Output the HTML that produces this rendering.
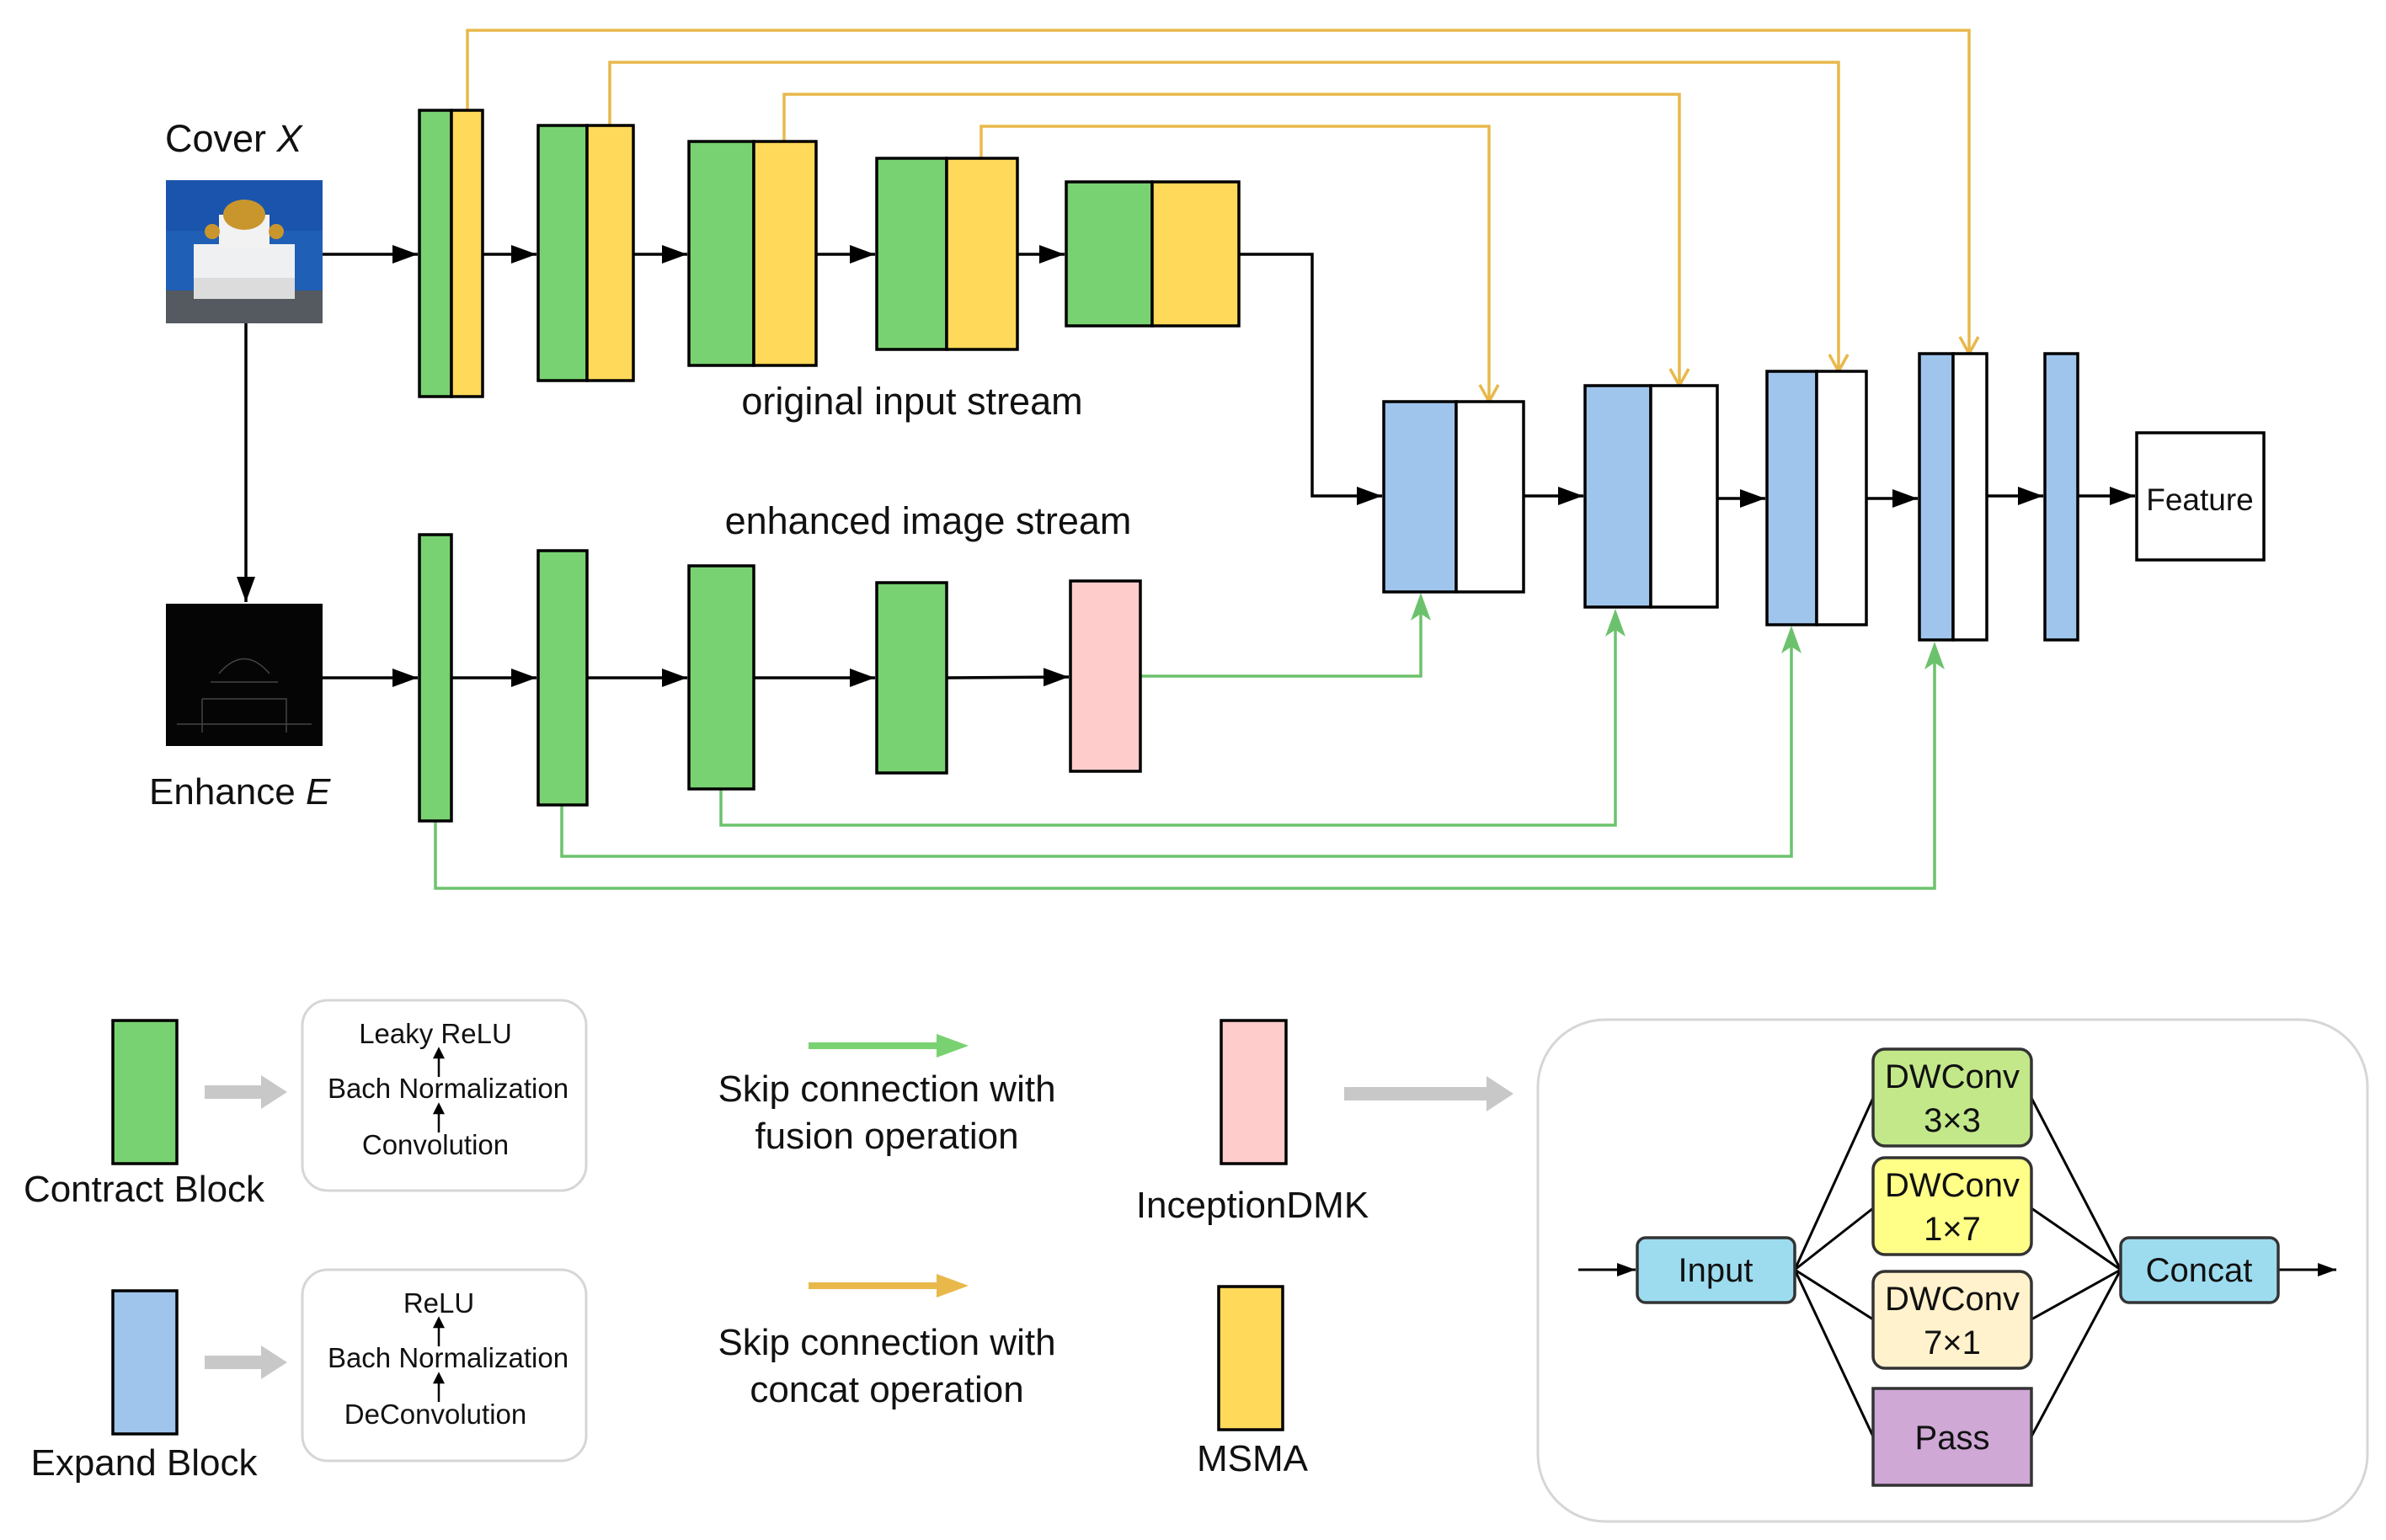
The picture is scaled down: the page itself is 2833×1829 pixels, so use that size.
<!DOCTYPE html>
<html><head><meta charset="utf-8"><style>
html,body{margin:0;padding:0;background:#fff}
svg{display:block}
text{font-family:"Liberation Sans",sans-serif;fill:#111}
</style></head><body>
<svg width="2833" height="1829" viewBox="0 0 2833 1829" xmlns="http://www.w3.org/2000/svg">
<defs>
<marker id="ab" markerWidth="30" markerHeight="22" refX="10" refY="5" orient="auto" markerUnits="userSpaceOnUse" viewBox="0 0 10 10" preserveAspectRatio="none"><path d="M0,0 L10,5 L0,10 Z" fill="#000"/></marker>
<marker id="as" markerWidth="22" markerHeight="16" refX="10" refY="5" orient="auto" markerUnits="userSpaceOnUse" viewBox="0 0 10 10" preserveAspectRatio="none"><path d="M0,0 L10,5 L0,10 Z" fill="#000"/></marker>
</defs>
<!-- Cover image -->
<rect x="197" y="214" width="186" height="170" fill="#1f5fb5"/>
<rect x="197" y="214" width="186" height="60" fill="#1a54ad"/>
<rect x="230" y="290" width="120" height="65" fill="#eef0f2"/>
<rect x="260" y="255" width="60" height="40" fill="#f2f2f2"/>
<ellipse cx="290" cy="255" rx="25" ry="18" fill="#c9962e"/>
<ellipse cx="252" cy="275" rx="9" ry="9" fill="#c9962e"/>
<ellipse cx="328" cy="275" rx="9" ry="9" fill="#c9962e"/>
<rect x="197" y="345" width="186" height="39" fill="#555a60"/>
<rect x="230" y="330" width="120" height="25" fill="#dcdcdc"/>
<!-- Enhance image -->
<rect x="197" y="717" width="186" height="169" fill="#050505"/>
<g stroke="#444" stroke-width="1.5" fill="none">
<path d="M260,800 Q290,765 320,800 M250,810 h80 M240,830 h100 v40 M240,830 v40 M210,860 h160"/>
</g>
<!-- top labels -->
<text x="196" y="180" font-size="45">Cover <tspan font-style="italic">X</tspan></text>
<text x="177" y="955" font-size="44">Enhance <tspan font-style="italic">E</tspan></text>
<text x="1083" y="492" font-size="45" text-anchor="middle">original input stream</text>
<text x="1102" y="634" font-size="45" text-anchor="middle">enhanced image stream</text>
<!-- orange skip lines -->
<g stroke="#e8b84a" stroke-width="3.5" fill="none">
<path d="M555,131 V36 H2338 V418"/>
<path d="M724,149 V74 H2183 V439"/>
<path d="M931,168 V112 H1994 V456"/>
<path d="M1165,188 V150 H1768 V475"/>
<path d="M2327,400 L2338,420 L2349,400 M2172,421 L2183,441 L2194,421 M1983,438 L1994,458 L2005,438 M1757,457 L1768,477 L1779,457"/>
</g>
<!-- green skip lines -->
<g stroke="#6cc26c" stroke-width="3.5" fill="none">
<path d="M1354,803 H1687 V725"/>
<path d="M856,937 V980 H1918 V745"/>
<path d="M667,956 V1017 H2127 V765"/>
<path d="M517,975 V1055 H2297 V783"/>
</g>
<g fill="#6cc26c">
<path d="M1687,704 L1699,737 L1687,729 L1675,737 Z"/>
<path d="M1918,723 L1930,756 L1918,748 L1906,756 Z"/>
<path d="M2127,743 L2139,776 L2127,768 L2115,776 Z"/>
<path d="M2297,762 L2309,795 L2297,787 L2285,795 Z"/>
</g>
<!-- black connectors -->
<g stroke="#000" stroke-width="3.5" fill="none" marker-end="url(#ab)">
<path d="M383,302 H496"/>
<path d="M573,302 H637"/>
<path d="M752,302 H816"/>
<path d="M969,302 H1039"/>
<path d="M1208,302 H1264"/>
<path d="M1471,302 H1558 V589 H1641"/>
<path d="M1809,589 H1880"/>
<path d="M2039,592 H2096"/>
<path d="M2216,592 H2277"/>
<path d="M2359,589 H2426"/>
<path d="M2467,589 H2535"/>
<path d="M292,384 V715"/>
<path d="M383,805 H496"/>
<path d="M536,805 H637"/>
<path d="M697,805 H816"/>
<path d="M895,805 H1039"/>
<path d="M1124,805 L1269,804"/>
</g>
<!-- blocks -->
<g stroke="#000" stroke-width="3.5">
<rect x="498" y="131" width="38" height="340" fill="#79d271"/><rect x="536" y="131" width="37" height="340" fill="#ffd95a"/>
<rect x="639" y="149" width="58" height="303" fill="#79d271"/><rect x="697" y="149" width="55" height="303" fill="#ffd95a"/>
<rect x="818" y="168" width="77" height="266" fill="#79d271"/><rect x="895" y="168" width="74" height="266" fill="#ffd95a"/>
<rect x="1041" y="188" width="83" height="227" fill="#79d271"/><rect x="1124" y="188" width="84" height="227" fill="#ffd95a"/>
<rect x="1266" y="216" width="102" height="171" fill="#79d271"/><rect x="1368" y="216" width="103" height="171" fill="#ffd95a"/>
<rect x="498" y="635" width="38" height="340" fill="#79d271"/>
<rect x="639" y="654" width="58" height="302" fill="#79d271"/>
<rect x="818" y="672" width="77" height="265" fill="#79d271"/>
<rect x="1041" y="692" width="83" height="226" fill="#79d271"/>
<rect x="1271" y="690" width="83" height="226" fill="#ffcccc"/>
<rect x="1643" y="477" width="86" height="226" fill="#9fc5ec"/><rect x="1729" y="477" width="80" height="226" fill="#fff"/>
<rect x="1882" y="458" width="78" height="263" fill="#9fc5ec"/><rect x="1960" y="458" width="79" height="263" fill="#fff"/>
<rect x="2098" y="441" width="59" height="301" fill="#9fc5ec"/><rect x="2157" y="441" width="59" height="301" fill="#fff"/>
<rect x="2279" y="420" width="40" height="340" fill="#9fc5ec"/><rect x="2319" y="420" width="40" height="340" fill="#fff"/>
<rect x="2428" y="420" width="39" height="340" fill="#9fc5ec"/>
<rect x="2537" y="514" width="151" height="151" fill="#fff"/>
</g>
<text x="2612" y="606" font-size="37" text-anchor="middle">Feature</text>

<!-- legend -->
<g stroke="#000" stroke-width="3.5">
<rect x="134" y="1212" width="76" height="170" fill="#79d271"/>
<rect x="134" y="1533" width="76" height="170" fill="#9fc5ec"/>
<rect x="1450" y="1212" width="77" height="170" fill="#ffcccc"/>
<rect x="1447" y="1528" width="76" height="170" fill="#ffd95a"/>
</g>
<g fill="#c8c8c8">
<path d="M243,1289 H310 V1277 L341,1297 L310,1317 V1305 H243 Z"/>
<path d="M243,1610 H310 V1598 L341,1618 L310,1638 V1626 H243 Z"/>
<path d="M1596,1291 H1765 V1278 L1797,1299 L1765,1320 V1307 H1596 Z"/>
</g>
<g fill="none" stroke="#d6d6d6" stroke-width="3">
<rect x="359" y="1188" width="337" height="226" rx="30"/>
<rect x="359" y="1508" width="337" height="227" rx="30"/>
<rect x="1826" y="1211" width="985" height="596" rx="80"/>
</g>
<g font-size="33" text-anchor="middle">
<text x="517" y="1239">Leaky ReLU</text>
<text x="532" y="1304">Bach Normalization</text>
<text x="517" y="1371">Convolution</text>
<text x="521" y="1559">ReLU</text>
<text x="532" y="1624">Bach Normalization</text>
<text x="517" y="1691">DeConvolution</text>
</g>
<g stroke="#000" stroke-width="2.5" fill="#000">
<path d="M521,1279 V1250"/><path d="M516,1256 L521,1246 L526,1256 Z"/>
<path d="M521,1345 V1316"/><path d="M516,1322 L521,1312 L526,1322 Z"/>
<path d="M521,1599 V1570"/><path d="M516,1576 L521,1566 L526,1576 Z"/>
<path d="M521,1665 V1636"/><path d="M516,1642 L521,1632 L526,1642 Z"/>
</g>
<g font-size="44" text-anchor="middle">
<text x="171" y="1427">Contract Block</text>
<text x="171" y="1752">Expand Block</text>
<text x="1053" y="1308">Skip connection with</text>
<text x="1053" y="1364">fusion operation</text>
<text x="1053" y="1609">Skip connection with</text>
<text x="1053" y="1665">concat operation</text>
<text x="1487" y="1446">InceptionDMK</text>
<text x="1487" y="1747">MSMA</text>
</g>
<rect x="960" y="1238" width="160" height="8" fill="#79d271"/>
<path d="M1112,1228 L1150,1242 L1112,1256 Z" fill="#79d271"/>
<rect x="960" y="1523" width="160" height="8" fill="#e8b84a"/>
<path d="M1112,1513 L1150,1527 L1112,1541 Z" fill="#e8b84a"/>

<!-- inception -->
<g stroke="#000" stroke-width="3" fill="none">
<path d="M2131,1508 L2224,1304 M2131,1508 L2224,1435 M2131,1508 L2224,1567 M2131,1508 L2224,1706"/>
<path d="M2518,1508 L2412,1304 M2518,1508 L2412,1435 M2518,1508 L2412,1567 M2518,1508 L2412,1706"/>
<path d="M1874,1508 H1942" marker-end="url(#as)"/>
<path d="M2705,1508 H2774" marker-end="url(#as)"/>
</g>
<g stroke="#333" stroke-width="3.5">
<rect x="1944" y="1470" width="187" height="77" rx="10" fill="#9ddcef"/>
<rect x="2518" y="1470" width="187" height="77" rx="10" fill="#9ddcef"/>
<rect x="2224" y="1246" width="188" height="115" rx="14" fill="#c3e88a"/>
<rect x="2224" y="1375" width="188" height="115" rx="14" fill="#ffff88"/>
<rect x="2224" y="1510" width="188" height="115" rx="14" fill="#fff2cc"/>
<rect x="2224" y="1649" width="188" height="115" fill="#cfa8d6"/>
</g>
<g font-size="40" text-anchor="middle">
<text x="2037" y="1522">Input</text>
<text x="2611" y="1522">Concat</text>
<text x="2318" y="1292">DWConv</text><text x="2318" y="1344">3×3</text>
<text x="2318" y="1421">DWConv</text><text x="2318" y="1473">1×7</text>
<text x="2318" y="1556">DWConv</text><text x="2318" y="1608">7×1</text>
<text x="2318" y="1721">Pass</text>
</g>
</svg>
</body></html>
